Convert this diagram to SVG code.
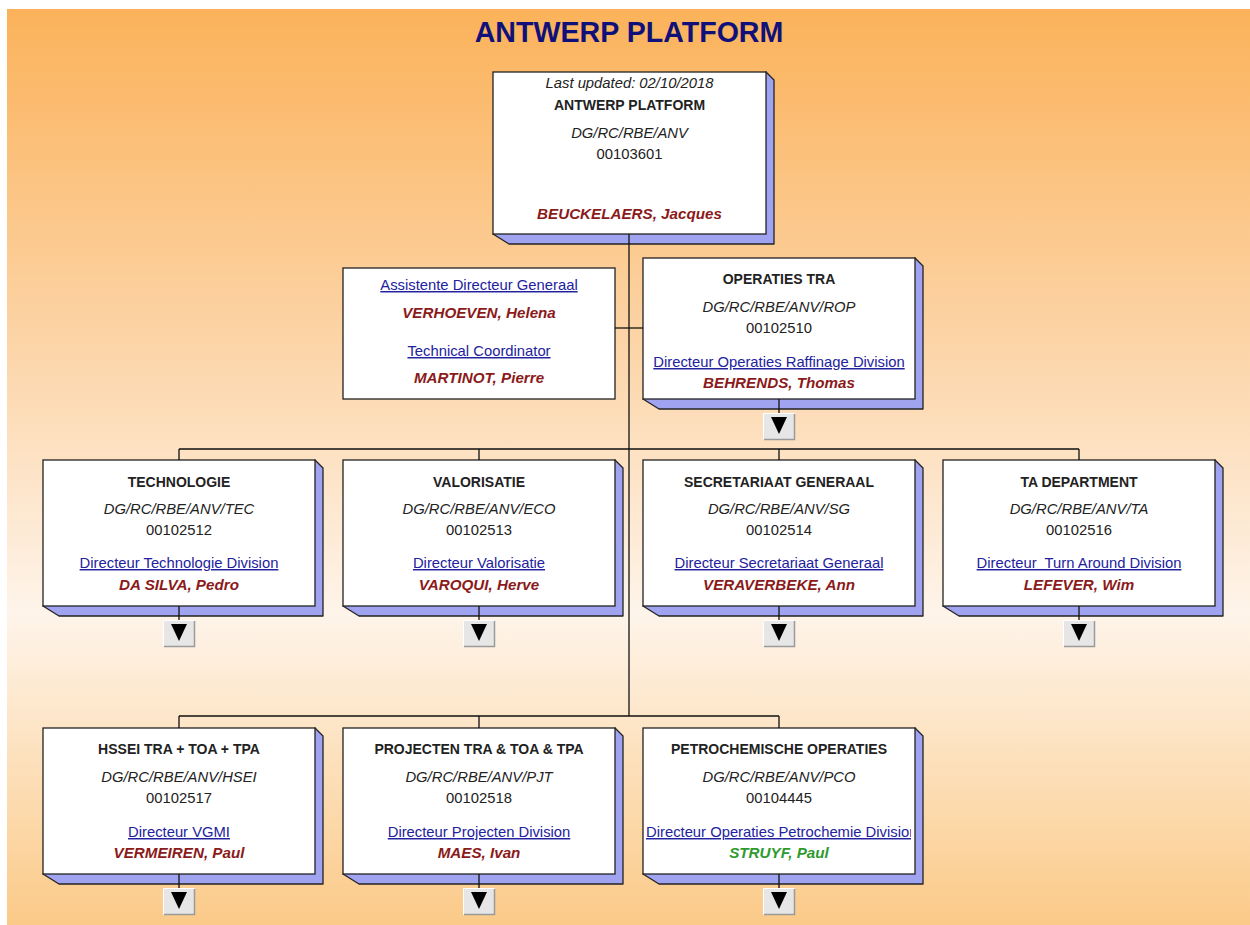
<svg xmlns="http://www.w3.org/2000/svg" xmlns:xlink="http://www.w3.org/1999/xlink" width="1250" height="925" viewBox="0 0 1250 925">
<defs>
<linearGradient id="bg" x1="0" y1="0" x2="0" y2="1">
<stop offset="0" stop-color="#FBB25A"/>
<stop offset="0.35" stop-color="#FCD3A4"/>
<stop offset="0.66" stop-color="#FEF4EA"/>
<stop offset="1" stop-color="#FBCA88"/>
</linearGradient>
<g id="btn">
<rect x="0" y="0" width="32" height="27" fill="#E6E6E6"/>
<path d="M0.5,26.5 V0.5 H31.5" fill="none" stroke="#FFFFFF" stroke-width="1"/>
<path d="M1,26.5 H31.5 V1" fill="none" stroke="#9A9A9A" stroke-width="1.5"/>
<polygon points="8,4 24,4 16,21" fill="#000"/>
</g>
</defs>
<style>
.box{fill:#fff;stroke:#222;stroke-width:1.3}
.side{fill:#A0A4F0;stroke:#222;stroke-width:1.3;stroke-linejoin:round}
text{font-family:"Liberation Sans",Arial,sans-serif;text-anchor:middle;fill:#222}
.t{font-size:14px;font-weight:bold}
.c{font-size:14.8px;font-style:italic}
.n{font-size:14.8px}
.l{font-size:14.8px;fill:#22229E;text-decoration:underline}
.nm{font-size:15.2px;font-weight:bold;font-style:italic;fill:#8B1A1A}
.gr{fill:#2E9A2E}
.conn{stroke:#111;stroke-width:1.3;fill:none}
</style>
<rect x="7" y="9" width="1243" height="916" fill="url(#bg)"/>
<text x="629" y="42" style="font-size:28.6px;font-weight:bold;fill:#10107A">ANTWERP PLATFORM</text>

<g id="node-antwerp" transform="translate(493,72)">
<polygon class="side" points="0,162 16,172 281,172 281,8 273,0"/>
<rect class="box" x="0" y="0" width="273" height="162"/>
<text class="c" x="136.5" y="16">Last updated: 02/10/2018</text>
<text class="t" x="136.5" y="38">ANTWERP PLATFORM</text>
<text class="c" x="136.5" y="66">DG/RC/RBE/ANV</text>
<text class="n" x="136.5" y="87">00103601</text>
<text class="nm" x="136.5" y="147">BEUCKELAERS, Jacques</text>
</g>

<g id="node-assistants" transform="translate(343,268)">
<rect class="box" x="0" y="0" width="272" height="131"/>
<text class="l" x="136" y="22">Assistente Directeur Generaal</text>
<text class="nm" x="136" y="50">VERHOEVEN, Helena</text>
<text class="l" x="136" y="88">Technical Coordinator</text>
<text class="nm" x="136" y="115">MARTINOT, Pierre</text>
</g>

<g id="node-operaties" transform="translate(643,258)">
<polygon class="side" points="0,141 16,151 280,151 280,8 272,0"/>
<rect class="box" x="0" y="0" width="272" height="141"/>
<text class="t" x="136" y="26">OPERATIES TRA</text>
<text class="c" x="136" y="54">DG/RC/RBE/ANV/ROP</text>
<text class="n" x="136" y="75">00102510</text>
<text class="l" x="136" y="109">Directeur Operaties Raffinage Division</text>
<text class="nm" x="136" y="130">BEHRENDS, Thomas</text>
<use xlink:href="#btn" href="#btn" x="120" y="155"/>
</g>

<g id="node-technologie" transform="translate(43,460)">
<polygon class="side" points="0,146 16,156 280,156 280,8 272,0"/>
<rect class="box" x="0" y="0" width="272" height="146"/>
<text class="t" x="136" y="27">TECHNOLOGIE</text>
<text class="c" x="136" y="54">DG/RC/RBE/ANV/TEC</text>
<text class="n" x="136" y="75">00102512</text>
<text class="l" x="136" y="108">Directeur Technologie Division</text>
<text class="nm" x="136" y="130">DA SILVA, Pedro</text>
<use xlink:href="#btn" href="#btn" x="120" y="160"/>
</g>

<g id="node-valorisatie" transform="translate(343,460)">
<polygon class="side" points="0,146 16,156 280,156 280,8 272,0"/>
<rect class="box" x="0" y="0" width="272" height="146"/>
<text class="t" x="136" y="27">VALORISATIE</text>
<text class="c" x="136" y="54">DG/RC/RBE/ANV/ECO</text>
<text class="n" x="136" y="75">00102513</text>
<text class="l" x="136" y="108">Directeur Valorisatie</text>
<text class="nm" x="136" y="130">VAROQUI, Herve</text>
<use xlink:href="#btn" href="#btn" x="120" y="160"/>
</g>

<g id="node-secretariaat" transform="translate(643,460)">
<polygon class="side" points="0,146 16,156 280,156 280,8 272,0"/>
<rect class="box" x="0" y="0" width="272" height="146"/>
<text class="t" x="136" y="27">SECRETARIAAT GENERAAL</text>
<text class="c" x="136" y="54">DG/RC/RBE/ANV/SG</text>
<text class="n" x="136" y="75">00102514</text>
<text class="l" x="136" y="108">Directeur Secretariaat Generaal</text>
<text class="nm" x="136" y="130">VERAVERBEKE, Ann</text>
<use xlink:href="#btn" href="#btn" x="120" y="160"/>
</g>

<g id="node-ta" transform="translate(943,460)">
<polygon class="side" points="0,146 16,156 280,156 280,8 272,0"/>
<rect class="box" x="0" y="0" width="272" height="146"/>
<text class="t" x="136" y="27">TA DEPARTMENT</text>
<text class="c" x="136" y="54">DG/RC/RBE/ANV/TA</text>
<text class="n" x="136" y="75">00102516</text>
<text class="l" x="136" y="108" xml:space="preserve">Directeur  Turn Around Division</text>
<text class="nm" x="136" y="130">LEFEVER, Wim</text>
<use xlink:href="#btn" href="#btn" x="120" y="160"/>
</g>

<g id="node-hssei" transform="translate(43,728)">
<polygon class="side" points="0,146 16,156 280,156 280,8 272,0"/>
<rect class="box" x="0" y="0" width="272" height="146"/>
<text class="t" x="136" y="26">HSSEI TRA + TOA + TPA</text>
<text class="c" x="136" y="54">DG/RC/RBE/ANV/HSEI</text>
<text class="n" x="136" y="75">00102517</text>
<text class="l" x="136" y="109">Directeur VGMI</text>
<text class="nm" x="136" y="130">VERMEIREN, Paul</text>
<use xlink:href="#btn" href="#btn" x="120" y="160"/>
</g>

<g id="node-projecten" transform="translate(343,728)">
<polygon class="side" points="0,146 16,156 280,156 280,8 272,0"/>
<rect class="box" x="0" y="0" width="272" height="146"/>
<text class="t" x="136" y="26">PROJECTEN TRA &amp; TOA &amp; TPA</text>
<text class="c" x="136" y="54">DG/RC/RBE/ANV/PJT</text>
<text class="n" x="136" y="75">00102518</text>
<text class="l" x="136" y="109">Directeur Projecten Division</text>
<text class="nm" x="136" y="130">MAES, Ivan</text>
<use xlink:href="#btn" href="#btn" x="120" y="160"/>
</g>

<g id="node-petrochemie" transform="translate(643,728)">
<polygon class="side" points="0,146 16,156 280,156 280,8 272,0"/>
<rect class="box" x="0" y="0" width="272" height="146"/>
<text class="t" x="136" y="26">PETROCHEMISCHE OPERATIES</text>
<text class="c" x="136" y="54">DG/RC/RBE/ANV/PCO</text>
<text class="n" x="136" y="75">00104445</text>
<svg x="0" y="90" width="268" height="30" overflow="hidden"><text class="l" x="3" y="19" style="text-anchor:start">Directeur Operaties Petrochemie Division</text></svg>
<text class="nm gr" x="136" y="130">STRUYF, Paul</text>
<use xlink:href="#btn" href="#btn" x="120" y="160"/>
</g>

<g id="connectors" class="conn">
<path d="M629,234 V716"/>
<path d="M615,328 H643"/>
<path d="M179,449 H1079 M179,449 V460 M479,449 V460 M779,449 V460 M1079,449 V460"/>
<path d="M179,716 H779 M179,716 V728 M479,716 V728 M779,716 V728"/>
<path d="M779,399 V413"/>
<path d="M179,606 V620 M479,606 V620 M779,606 V620 M1079,606 V620"/>
<path d="M179,874 V888 M479,874 V888 M779,874 V888"/>
</g>
</svg>
